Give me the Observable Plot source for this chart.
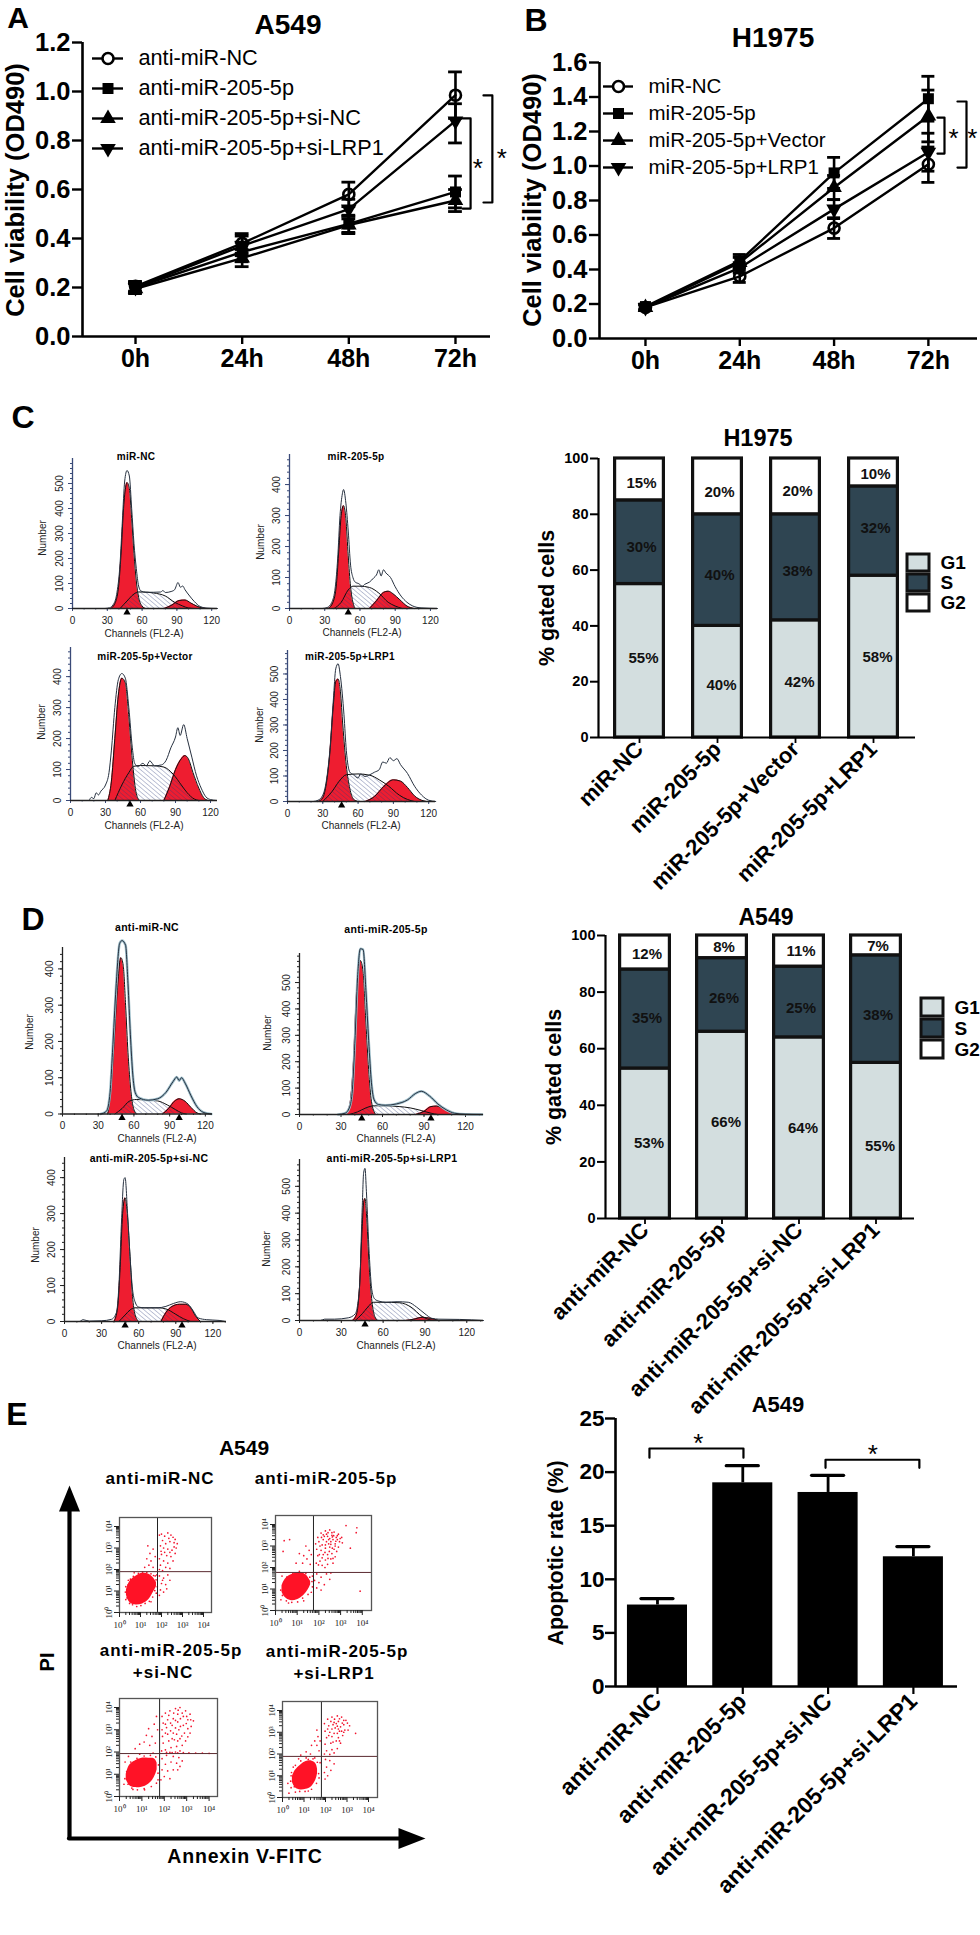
<!DOCTYPE html>
<html><head><meta charset="utf-8">
<script src="https://cdn.jsdelivr.net/npm/d3@7"></script>
<script src="https://cdn.jsdelivr.net/npm/@observablehq/plot@0.6"></script>
<style>
html,body{margin:0;padding:0;background:#fff}
#root{position:relative;width:980px;height:1935px;overflow:hidden;font-family:"Liberation Sans",Arial,sans-serif;color:#000}
.t{position:absolute;white-space:nowrap;line-height:1;transform-origin:center}
</style></head><body>
<svg width="0" height="0" style="position:absolute"><defs>
<pattern id="hatch" width="3.4" height="3.4" patternUnits="userSpaceOnUse" patternTransform="rotate(-50)"><rect width="3.4" height="3.4" fill="none"/><line x1="0" y1="0" x2="0" y2="3.4" stroke="#2b3a7a" stroke-width="1" stroke-opacity="0.6"/></pattern>
</defs></svg>
<div id="root"></div>
<script>
/* ---------- data: viability curves ---------- */
const hours = [0,24,48,72];
const a549Series = ["anti-miR-NC","anti-miR-205-5p","anti-miR-205-5p+si-NC","anti-miR-205-5p+si-LRP1"];
const a549Mean = [[.205,.38,.58,.985],[.20,.345,.46,.59],[.195,.32,.455,.555],[.20,.37,.52,.88]];
const a549High = [[.225,.42,.63,1.08],[.22,.385,.495,.655],[.215,.355,.49,.60],[.22,.41,.56,.95]];
const a549Low  = [[.185,.34,.53,.89],[.18,.305,.425,.525],[.175,.285,.42,.51],[.18,.33,.48,.79]];
const h1975Series = ["miR-NC","miR-205-5p","miR-205-5p+Vector","miR-205-5p+LRP1"];
const h1975Mean = [[.18,.36,.64,1.01],[.185,.45,.96,1.39],[.18,.44,.875,1.29],[.18,.41,.75,1.08]];
const h1975High = [[.195,.395,.70,1.11],[.20,.487,1.05,1.52],[.195,.47,.945,1.44],[.195,.44,.805,1.19]];
const h1975Low  = [[.165,.325,.58,.905],[.17,.41,.87,1.26],[.165,.41,.805,1.14],[.165,.38,.695,.97]];
const a549Brackets = [[[73.6,.89],[75.4,.89],[75.4,.522],[73.6,.522]],[[78.3,.984],[80.3,.984],[80.3,.547],[78.3,.547]]];
const a549Stars = [[77,.706],[82.4,.747]];
const h1975Brackets = [[[74.3,1.281],[76.1,1.281],[76.1,1.072],[74.3,1.072]],[[79.4,1.374],[81.7,1.374],[81.7,.991],[79.4,.991]]];
const h1975Stars = [[78.4,1.19],[83.2,1.19]];

/* ---------- data: cell-cycle stacks ---------- */
const stages = ["G1","S","G2"];
const stageColors = ["#d3dedf","#2f4552","#ffffff"];
const cycleH = h1975Series;
const cycleHG1 = [55,40,42,58], cycleHS = [30,40,38,32], cycleHG2 = [15,20,20,10];
const cycleHLabelY = {G1:[28.3,18.7,19.7,28.7], S:[68.2,58.1,59.6,75], G2:[91.1,87.9,88.3,94.3]};
const cycleA = a549Series;
const cycleAG1 = [53,66,64,55], cycleAS = [35,26,25,38], cycleAG2 = [12,8,11,7];
const cycleALabelY = {G1:[26.5,33.9,31.8,25.4], S:[70.7,77.7,74.2,72], G2:[93.3,95.8,94.4,96.4]};

/* ---------- data: apoptosis ---------- */
const apopNames = a549Series;
const apopPos = [1,2,3,4];
const apopMean = [7.6,19.0,18.1,12.1];
const apopHigh = [8.2,20.6,19.7,13.05];
const apopBrackets = [[[.906,21.35],[.906,22.2],[2.008,22.2],[2.008,21.35]],[[2.97,20.4],[2.97,21.15],[4.07,21.15],[4.07,20.4]]];
const apopStars = [[1.48,23.1],[3.525,22.1]];

/* ---------- data: histograms [channel, count] ---------- */
const histC1 = {out:[[28,0],[32,3],[35,15],[38,55],[41,180],[43,350],[45,510],[47,552],[49,530],[51,400],[53,260],[55,160],[57,90],[59,70],[63,65],[70,65],[76,66],[78,72],[80,64],[85,68],[88,75],[91,104],[93,85],[95,90],[97,75],[101,50],[105,28],[110,8],[115,2],[125,0]],
 g1:[[33,0],[37,25],[40,100],[42,230],[44,400],[46,490],[47,504],[49,480],[51,360],[53,220],[55,110],[57,45],[60,10],[63,0]],
 s:[[41,0],[47,30],[53,58],[57,66],[60,66],[70,62],[80,50],[88,25],[95,10],[100,2],[105,0]],
 g2:[[79,0],[85,12],[92,32],[97,34],[102,22],[107,10],[112,2],[116,0]], peaks:[47]};
const histC2 = {out:[[28,0],[32,3],[36,20],[39,70],[41,160],[43,300],[45,370],[46,384],[48,340],[50,250],[52,140],[54,100],[56,85],[59,80],[62,72],[64,78],[68,85],[72,100],[74,108],[76,125],[78,105],[80,125],[82,115],[86,100],[90,70],[95,40],[100,20],[105,8],[112,2],[126,0]],
 g1:[[33,0],[37,20],[40,80],[42,190],[44,300],[46,332],[48,290],[50,170],[52,70],[54,20],[56,0]],
 s:[[38,0],[44,20],[50,60],[54,72],[60,72],[68,68],[76,50],[84,20],[90,8],[96,0]],
 g2:[[68,0],[74,25],[80,52],[84,56],[88,48],[94,28],[100,8],[106,0]], peaks:[50]};
const histC3 = {out:[[16,0],[18,10],[20,6],[22,25],[24,18],[26,30],[30,50],[33,90],[35,160],[38,300],[41,390],[44,410],[47,395],[50,300],[53,170],[55,120],[58,110],[62,120],[65,112],[68,128],[72,112],[78,115],[82,130],[86,170],[90,205],[92,235],[94,210],[97,245],[100,200],[104,140],[108,80],[112,40],[116,12],[120,3],[125,0]],
 g1:[[32,0],[35,60],[38,200],[41,340],[44,395],[47,380],[50,270],[53,130],[56,30],[59,0]],
 s:[[38,0],[44,50],[50,90],[54,110],[60,113],[72,112],[80,108],[88,85],[95,50],[100,25],[106,5],[110,0]],
 g2:[[80,0],[85,45],[90,100],[95,135],[98,145],[101,135],[105,90],[110,40],[114,10],[118,0]], peaks:[51]};
const histC4 = {out:[[22,0],[26,5],[30,25],[33,80],[36,200],[39,400],[41,520],[43,540],[45,490],[48,340],[50,200],[53,115],[56,105],[60,92],[62,108],[66,98],[70,105],[74,115],[78,125],[81,155],[84,150],[87,172],[90,160],[93,168],[96,145],[102,110],[108,60],[114,25],[120,5],[126,0]],
 g1:[[26,0],[30,15],[33,70],[36,190],[39,380],[41,470],[43,480],[45,430],[47,300],[50,140],[53,50],[56,10],[60,0]],
 s:[[30,0],[38,40],[44,80],[50,105],[60,108],[70,103],[78,85],[86,60],[95,25],[102,8],[108,0]],
 g2:[[66,0],[74,20],[82,60],[90,85],[96,80],[102,55],[108,22],[114,5],[118,0]], peaks:[46]};
const histD1 = {out:[[32,0],[37,8],[40,60],[42,170],[45,350],[48,470],[50,478],[53,465],[55,360],[57,220],[59,110],[61,60],[64,45],[72,38],[80,42],[87,60],[93,90],[96,102],[98,92],[100,100],[103,85],[108,50],[113,20],[118,5],[125,0]],
 g1:[[38,0],[41,80],[43,180],[46,340],[49,431],[51,410],[53,300],[55,170],[57,80],[59,25],[62,0]],
 s:[[44,0],[50,15],[56,35],[62,40],[72,38],[80,36],[88,25],[95,12],[100,3],[104,0]],
 g2:[[84,0],[89,15],[94,35],[98,42],[103,35],[108,18],[113,3],[116,0]], peaks:[50,98]};
const histD2 = {out:[[28,0],[33,5],[36,25],[38,80],[40,270],[42,520],[44,628],[46,625],[48,470],[50,280],[52,120],[54,55],[57,38],[62,35],[70,40],[78,55],[84,80],[88,88],[94,70],[100,40],[106,18],[112,5],[120,1],[132,0]],
 g1:[[32,0],[35,15],[37,60],[39,200],[41,440],[43,570],[44,583],[46,540],[48,350],[50,170],[52,50],[55,0]],
 s:[[36,0],[42,10],[48,25],[54,33],[62,33],[72,30],[80,25],[88,15],[95,5],[100,0]],
 g2:[[84,0],[90,12],[95,30],[99,32],[104,22],[110,6],[114,0]], peaks:[45,95]};
const histD3 = {out:[[0,0],[12,0],[15,5],[20,1],[30,2],[38,6],[42,25],[44,100],[46,270],[48,395],[49,400],[51,300],[53,180],[55,90],[57,55],[60,40],[65,38],[75,38],[82,42],[88,50],[94,55],[100,48],[104,30],[108,10],[115,5],[125,3],[130,0]],
 g1:[[40,0],[43,40],[45,150],[47,300],[49,344],[51,290],[53,180],[55,70],[57,20],[60,0]],
 s:[[44,0],[49,18],[53,32],[57,38],[66,38],[76,38],[82,35],[90,20],[96,8],[102,0]],
 g2:[[78,0],[82,25],[87,42],[93,48],[98,48],[102,38],[106,15],[110,0]], peaks:[49,95]};
const histD4 = {out:[[0,0],[15,0],[18,5],[25,5],[35,10],[40,25],[43,120],[45,420],[46,550],[47,567],[48,480],[50,250],[52,110],[54,80],[57,72],[62,68],[70,70],[78,68],[84,50],[90,25],[95,8],[100,5],[115,4],[132,0]],
 g1:[[38,0],[41,25],[43,120],[45,350],[46,440],[47,455],[48,400],[50,200],[52,70],[54,15],[56,0]],
 s:[[40,0],[45,25],[49,50],[53,68],[60,68],[72,66],[80,50],[88,15],[92,5],[96,0]],
 g2:[[76,0],[82,5],[88,12],[94,8],[100,0]], peaks:[47]};

/* ---------- data: flow cytometry, [log10 Annexin, log10 PI] ---------- */
const blobA = [[.33,.8,1.05],[.5,.45,1.45],[.8,.35,1.7],[1.1,.4,1.82],[1.4,.6,1.78],[1.62,.95,1.6],[1.76,1.2,1.4]];
const dotsA = [[1.9,3.6],[2.0,3.65],[2.15,3.55],[2.3,3.7],[2.45,3.6],[2.55,3.5],[2.65,3.4],[2.75,3.2],[2.7,3.0],[2.6,3.25],[2.4,3.3],[2.2,3.2],[2.05,3.35],[1.95,3.1],[2.1,3.0],[2.3,2.95],[2.5,2.9],[2.65,2.75],[2.45,2.6],[2.25,2.65],[2.0,2.7],[1.9,2.5],[2.1,2.4],[2.3,2.3],[2.55,2.4],[1.95,2.2],[2.2,2.1],[2.4,2.05],[1.9,2.0],[2.05,1.95],[2.35,3.45],[2.6,3.05],[2.15,2.8],[2.4,2.8],[1.98,2.85],[1.35,3.1],[1.45,2.75],[1.3,2.5],[1.5,2.4],[1.6,2.95],[1.4,2.2],[1.6,2.1],[1.7,2.6],[1.2,2.1],[1.9,1.7],[2.1,1.6],[2.3,1.75],[2.4,1.5],[2.0,1.35],[2.2,1.3],[1.95,1.05],[2.1,.95],[1.9,.8],[2.05,1.5],[2.25,1.1],[.3,.6],[.42,1.5],[1.7,1.7],[1.75,.9],[1.5,.5],[.7,1.85],[.3,1.2],
 [.28,.95],[.36,.68],[.4,1.28],[.48,.42],[.52,1.55],[.62,.36],[.66,1.68],[.82,.28],[.9,1.82],[1.02,.32],[1.1,1.88],[1.22,.42],[1.3,1.86],[1.42,.52],[1.5,1.8],[1.58,.72],[1.62,1.72],[1.68,1.02],[1.74,1.52],[1.8,1.2],[1.78,1.75]];
const blobB = [[.3,.85,1.15],[.45,.6,1.45],[.7,.46,1.65],[1.0,.5,1.75],[1.3,.7,1.72],[1.5,.95,1.55],[1.62,1.2,1.35]];
const dotsB = [[1.85,3.1],[1.95,3.4],[2.1,3.6],[2.3,3.7],[2.5,3.75],[2.7,3.65],[2.9,3.55],[3.05,3.4],[3.08,3.15],[2.95,3.2],[2.8,3.4],[2.6,3.5],[2.4,3.45],[2.2,3.3],[2.0,3.2],[2.15,3.05],[2.35,3.2],[2.55,3.2],[2.75,3.1],[2.9,2.95],[2.7,2.85],[2.5,2.95],[2.3,2.9],[2.1,2.8],[1.9,2.85],[1.95,2.55],[2.2,2.6],[2.4,2.6],[2.6,2.65],[2.75,2.5],[2.55,2.4],[2.3,2.35],[2.05,2.3],[1.88,2.2],[2.15,2.1],[2.4,2.15],[2.65,2.2],[2.5,3.35],[2.65,3.3],[2.45,3.1],[2.35,3.55],[2.6,3.62],[2.75,3.0],[2.85,3.3],[2.25,3.45],[3.25,3.95],[3.75,3.85],[3.72,3.62],[3.45,2.9],[1.4,3.0],[1.55,2.8],[1.3,2.55],[1.1,2.65],[1.45,2.4],[1.65,2.6],[.95,2.2],[1.25,2.2],[1.6,2.15],[.65,3.3],[.35,2.75],[.4,3.25],[1.9,1.7],[2.1,1.55],[2.35,1.7],[2.5,1.45],[2.0,1.3],[2.25,1.2],[1.9,1.05],[2.1,.95],[2.55,1.75],[1.8,1.4],[3.9,.9],[.25,.5],[.6,.35],[1.3,.45],[1.65,.85],[1.7,1.6],[.3,1.6],
 [2.45,3.3],[2.62,3.42],[2.78,3.22],[2.42,3.62],[2.55,3.08],[2.68,3.48],[2.3,3.05],[2.85,3.48],[2.98,3.35],[2.2,3.52],[2.12,3.4],[2.05,3.0],[2.28,2.7],[2.48,2.75],[2.62,2.9],[2.82,2.75],[2.02,2.6],[2.15,2.45],[2.42,2.42],[2.65,2.42],[1.98,2.12],[2.28,2.0],[.24,.95],[.32,.7],[.38,1.3],[.5,.45],[.52,1.55],[.75,.38],[.8,1.72],[1.02,.4],[1.1,1.82],[1.25,.58],[1.4,1.72],[1.5,.75],[1.58,1.55],[1.7,1.1],[1.68,1.35]];
const blobC = [[.3,.75,1.0],[.45,.5,1.4],[.7,.4,1.6],[1.0,.42,1.72],[1.3,.55,1.72],[1.55,.85,1.7],[1.68,1.2,1.5]];
const dotsC = [[1.9,3.6],[2.05,3.75],[2.25,3.85],[2.5,3.95],[2.7,4.0],[2.95,3.85],[3.15,3.7],[3.3,3.4],[3.2,3.15],[3.05,3.45],[2.85,3.6],[2.6,3.7],[2.4,3.5],[2.15,3.45],[1.95,3.3],[1.9,3.0],[2.1,3.1],[2.35,3.2],[2.6,3.35],[2.85,3.2],[3.05,3.05],[3.15,2.85],[2.9,2.85],[2.65,3.0],[2.4,2.85],[2.15,2.8],[1.92,2.7],[1.95,2.4],[2.2,2.5],[2.45,2.55],[2.7,2.6],[2.95,2.5],[2.8,2.3],[2.55,2.25],[2.3,2.2],[2.05,2.1],[1.88,2.05],[2.25,1.98],[2.5,2.0],[2.7,2.05],[2.1,1.98],[2.35,1.97],[2.6,1.96],[2.85,1.97],[3.1,1.96],[3.4,1.95],[3.7,1.95],[4.0,1.94],[1.3,3.05],[1.55,3.25],[1.65,3.6],[1.7,3.0],[1.2,2.75],[1.45,2.7],[.9,2.35],[1.1,2.45],[1.6,2.4],[.7,2.15],[1.35,2.3],[1.9,1.7],[2.1,1.85],[2.4,1.8],[2.65,1.75],[2.8,1.6],[2.55,1.5],[2.3,1.55],[2.05,1.45],[1.9,1.2],[2.15,1.15],[2.4,1.2],[2.6,1.2],[2.0,.9],[2.25,.8],[1.85,.75],[2.7,1.35],[.2,.55],[.25,1.55],[.4,1.8],[.9,1.9],[1.5,1.95],[.6,.32],[1.1,.35],[1.72,.75],
 [2.2,3.65],[2.42,3.75],[2.62,3.88],[2.8,3.75],[3.0,3.6],[3.18,3.45],[2.72,3.5],[2.5,3.42],[2.28,3.3],[2.05,3.25],[2.5,3.08],[2.72,3.15],[2.98,3.28],[2.28,2.95],[2.55,2.8],[2.78,2.72],[3.05,2.68],[2.05,2.85],[2.35,2.6],[2.6,2.5],[.24,.8],[.32,1.12],[.38,.55],[.5,1.55],[.55,.38],[.78,1.72],[.8,.3],[1.1,1.82],[1.12,.3],[1.38,1.85],[1.42,.45],[1.62,1.78],[1.65,.6],[1.72,1.05],[1.74,1.42]];
const blobD = [[.46,.7,.95],[.6,.45,1.25],[.85,.35,1.5],[1.1,.38,1.65],[1.35,.5,1.68],[1.55,.8,1.55],[1.63,1.1,1.3]];
const dotsD = [[1.95,3.4],[2.1,3.6],[2.3,3.7],[2.55,3.75],[2.75,3.7],[2.95,3.55],[3.12,3.3],[3.05,3.1],[2.85,3.35],[2.6,3.5],[2.4,3.45],[2.15,3.3],[1.98,3.05],[2.2,3.0],[2.45,3.2],[2.7,3.25],[2.9,3.1],[2.8,2.85],[2.55,2.95],[2.3,2.8],[2.05,2.75],[1.98,2.45],[2.25,2.5],[2.5,2.6],[2.7,2.5],[2.55,2.25],[2.3,2.2],[2.05,2.15],[1.95,2.0],[2.2,1.98],[2.4,2.05],[2.65,3.05],[2.35,3.35],[2.5,3.4],[2.75,3.05],[2.6,2.75],[3.4,2.95],[1.6,3.1],[1.65,2.8],[1.5,2.6],[1.75,2.6],[1.35,2.4],[1.6,2.4],[1.1,2.1],[1.3,2.0],[1.7,2.15],[.85,1.95],[2.0,1.75],[2.2,1.7],[2.4,1.55],[2.05,1.4],[2.25,1.25],[1.95,1.15],[2.1,1.0],[1.98,.85],[.3,.2],[.4,.45],[.25,.65],[.4,1.0],[.5,1.4],[.75,1.78],[1.1,1.82],[1.5,1.82],[1.75,1.6],[1.7,.9],[.6,.25],[1.2,.3],
 [2.25,3.5],[2.42,3.6],[2.65,3.62],[2.85,3.55],[3.02,3.42],[2.55,3.28],[2.78,3.42],[2.3,3.15],[2.6,3.15],[2.85,3.0],[2.4,2.95],[2.15,2.85],[2.1,3.15],[2.65,2.6],[2.35,2.55],[.38,.75],[.42,1.15],[.55,.5],[.6,1.48],[.8,.28],[.85,1.68],[1.05,.28],[1.2,1.75],[1.35,.38],[1.42,1.78],[1.58,.65],[1.62,1.62],[1.68,1.1]];

/* ---------- helpers ---------- */
const FONT = '"Liberation Sans", Arial, sans-serif';
const root = document.getElementById("root");
function mount(box, pad, opts){
  const svg = Plot.plot({
    width: box.right-box.left+pad.l+pad.r, height: box.bottom-box.top+pad.t+pad.b,
    marginLeft: pad.l, marginRight: pad.r, marginTop: pad.t, marginBottom: pad.b,
    style: {fontFamily: FONT, background: "transparent", overflow: "visible", maxWidth: "none", color: "#000"},
    ...opts});
  svg.style.position = "absolute";
  svg.style.left = (box.left-pad.l)+"px";
  svg.style.top = (box.top-pad.t)+"px";
  root.append(svg);
}
function text(s, x, y, size, o={}){
  const d = document.createElement("div");
  d.className = "t"; d.textContent = s;
  d.style.left = x+"px"; d.style.top = y+"px"; d.style.fontSize = size+"px";
  d.style.fontWeight = o.weight ?? "bold";
  if (o.spacing) d.style.letterSpacing = o.spacing+"px";
  if (o.color) d.style.color = o.color;
  d.style.transform = `translate(-50%,-50%) rotate(${o.rotate ?? 0}deg)`;
  root.append(d);
}
const downTriangle = {draw(c, s){ const y = Math.sqrt(s/(Math.sqrt(3)*3)); c.moveTo(0,y*2); c.lineTo(-Math.sqrt(3)*y,-y); c.lineTo(Math.sqrt(3)*y,-y); c.closePath(); }};
const symbols = ["circle","square","triangle",downTriangle];
const markerR = [5.5,6.2,5.8,5.8];

/* ---------- viability panel ---------- */
function viability(cfg){
  const marks = [];
  cfg.names.forEach((name,i)=>{
    const rows = hours.map((h,j)=>({h, m:cfg.mean[i][j], hi:cfg.high[i][j], lo:cfg.low[i][j]}));
    marks.push(Plot.line(rows,{x:"h",y:"m",stroke:"#000",strokeWidth:2.4}));
    marks.push(Plot.ruleX(rows,{x:"h",y1:"lo",y2:"hi",stroke:"#000",strokeWidth:2.6}));
    marks.push(Plot.ruleY(rows,{y:"hi",x1:d=>d.h-cfg.cap,x2:d=>d.h+cfg.cap,stroke:"#000",strokeWidth:2.8}));
    marks.push(Plot.ruleY(rows,{y:"lo",x1:d=>d.h-cfg.cap,x2:d=>d.h+cfg.cap,stroke:"#000",strokeWidth:2.8}));
    marks.push(i===0
      ? Plot.dot(rows,{x:"h",y:"m",r:markerR[0],symbol:"circle",stroke:"#000",strokeWidth:2.6,fill:"none"})
      : Plot.dot(rows,{x:"h",y:"m",r:markerR[i],symbol:symbols[i],fill:"#000",stroke:"none"}));
  });
  cfg.brackets.forEach(b=>marks.push(Plot.line(b,{x:"0",y:"1",stroke:"#000",strokeWidth:2.2,curve:"linear"})));
  marks.push(Plot.text(cfg.stars,{x:"0",y:"1",text:()=>"*",fontSize:26,fill:"#000",dy:5}));
  mount(cfg.box,{l:80,r:0,t:20,b:45},{
    x:{domain:cfg.xDomain,label:null}, y:{domain:cfg.yDomain,label:null},
    marks:[
      Plot.ruleX([cfg.xDomain[0]],{stroke:"#000",strokeWidth:2.6}),
      Plot.ruleY([0],{stroke:"#000",strokeWidth:2.6}),
      Plot.axisY({ticks:cfg.yTicks,tickFormat:d=>d.toFixed(1),tickSize:10,tickPadding:2,strokeWidth:2.4,fontSize:25.5,fontWeight:"bold",label:null,fill:"#000"}),
      Plot.axisX({ticks:hours,tickFormat:d=>d+"h",tickSize:8,tickPadding:5,strokeWidth:2.4,fontSize:25,fontWeight:"bold",label:null,fill:"#000"}),
      ...marks]});
}
function lineLegend(names, box, size){
  const rows = names.map((n,i)=>({n,i}));
  mount(box,{l:4,r:340,t:16,b:16},{
    x:{domain:[0,1],axis:null}, y:{type:"point",domain:names,axis:null,padding:0},
    marks:[
      Plot.ruleY(rows,{y:"n",stroke:"#000",strokeWidth:2.4}),
      ...rows.map(r=>r.i===0
        ? Plot.dot([r],{x:()=>.5,y:"n",r:5.5,symbol:"circle",stroke:"#000",strokeWidth:2.6,fill:"#fff"})
        : Plot.dot([r],{x:()=>.5,y:"n",r:markerR[r.i],symbol:symbols[r.i],fill:"#000"})),
      Plot.text(rows,{x:()=>1,y:"n",text:"n",dx:15,textAnchor:"start",fontSize:size,fill:"#000",lineAnchor:"middle"})
    ]});
}
viability({box:{left:82,right:490,top:42,bottom:336},names:a549Series,mean:a549Mean,high:a549High,low:a549Low,
  xDomain:[-11.93,79.88],yDomain:[0,1.2],yTicks:d3.range(0,1.21,.2),cap:1.55,brackets:a549Brackets,stars:a549Stars});
lineLegend(a549Series,{left:92,right:123,top:58,bottom:148},21.7);
viability({box:{left:599,right:977,top:62,bottom:338},names:h1975Series,mean:h1975Mean,high:h1975High,low:h1975Low,
  xDomain:[-11.7,84.5],yDomain:[0,1.6],yTicks:d3.range(0,1.61,.2),cap:1.65,brackets:h1975Brackets,stars:h1975Stars});
lineLegend(h1975Series,{left:603,right:633,top:85,bottom:168},20.5);

/* ---------- cell-cycle stacks ---------- */
function cycle(cfg){
  const rows = [];
  stages.forEach((st,k)=>cfg.names.forEach((name,i)=>{
    rows.push({name,stage:st,value:cfg.values[k][i],labelY:cfg.labelY[st][i]});
  }));
  mount(cfg.box,{l:70,r:5,t:5,b:40},{
    x:{domain:cfg.names,label:null,paddingInner:cfg.pi,paddingOuter:cfg.po,align:.5},
    y:{domain:[0,100],label:null},
    color:{domain:stages,range:stageColors},
    marks:[
      Plot.barY(rows,{x:"name",y:"value",fill:"stage",stroke:"#111",strokeWidth:3.2,insetLeft:1.6,insetRight:1.6}),
      Plot.ruleY([0],{stroke:"#000",strokeWidth:2.2}),
      Plot.axisY({ticks:d3.range(0,101,20),tickSize:8,tickPadding:2,strokeWidth:2,fontSize:14.5,fontWeight:"bold",label:null,fill:"#000"}),
      Plot.axisX({tickSize:6,tickPadding:2,tickRotate:-45,strokeWidth:1.8,fontSize:22,fontWeight:"bold",label:null,fill:"#000"}),
      Plot.text(rows.filter(d=>d.stage==="G1"),{x:"name",y:"labelY",text:d=>d.value+"%",fontSize:15,fontWeight:"bold",fill:"#111",dx:4}),
      Plot.text(rows.filter(d=>d.stage!=="G1"),{x:"name",y:"labelY",text:d=>d.value+"%",fontSize:15,fontWeight:"bold",fill:"#111",dx:2})
    ]});
  mount({left:cfg.box.left,right:cfg.box.left+1,top:cfg.box.top,bottom:cfg.box.bottom},{l:1,r:1,t:0,b:0},{
    x:{domain:[0,1],axis:null},y:{domain:[0,100],axis:null},marks:[Plot.ruleX([0],{stroke:"#000",strokeWidth:2.2})]});
}
function cycleLegend(box){
  mount(box,{l:2,r:30,t:2,b:2},{
    x:{domain:["k"],axis:null,padding:0},
    y:{domain:stages,axis:null,padding:.16},
    color:{domain:stages,range:stageColors},
    marks:[
      Plot.cell(stages,{x:()=>"k",y:d=>d,fill:d=>d,stroke:"#111",strokeWidth:3}),
      Plot.text(stages,{x:()=>"k",y:d=>d,text:d=>d,dx:22,textAnchor:"start",fontSize:19,fontWeight:"bold",fill:"#000"})
    ]});
}
cycle({box:{left:598,right:915,top:458,bottom:737},names:cycleH,values:[cycleHG1,cycleHS,cycleHG2],labelY:cycleHLabelY,pi:.327,po:.178});
cycleLegend({left:907,right:929,top:549,bottom:615});
cycle({box:{left:605,right:914,top:935,bottom:1218},names:cycleA,values:[cycleAG1,cycleAS,cycleAG2],labelY:cycleALabelY,pi:.312,po:.156});
cycleLegend({left:921,right:943,top:994,bottom:1062});

/* ---------- apoptosis bars ---------- */
const apopRows = apopNames.map((n,i)=>({n,p:apopPos[i],m:apopMean[i],hi:apopHigh[i]}));
mount({left:615,right:957,top:1418,bottom:1686},{l:60,r:5,t:5,b:40},{
  x:{domain:[.508,4.517],label:null}, y:{domain:[0,25],label:null},
  marks:[
    Plot.ruleX(apopRows,{x:"p",y1:"m",y2:"hi",stroke:"#000",strokeWidth:2.8}),
    Plot.ruleY(apopRows,{y:"hi",x1:d=>d.p-.188,x2:d=>d.p+.188,stroke:"#000",strokeWidth:3.2,strokeLinecap:"round"}),
    Plot.rectY(apopRows,{x1:d=>d.p-.352,x2:d=>d.p+.352,y:"m",fill:"#000"}),
    Plot.ruleX([.508],{stroke:"#000",strokeWidth:2.6}),
    Plot.ruleY([0],{stroke:"#000",strokeWidth:2.6}),
    Plot.axisY({ticks:d3.range(0,26,5),tickSize:10,tickPadding:1,strokeWidth:2.4,fontSize:22.5,fontWeight:"bold",label:null,fill:"#000"}),
    Plot.axisX({ticks:apopPos,tickFormat:i=>apopNames[i-1],tickSize:8,tickPadding:3,tickRotate:-45,strokeWidth:2.2,fontSize:23,fontWeight:"bold",label:null,fill:"#000"}),
    ...apopBrackets.map(b=>Plot.line(b,{x:"0",y:"1",stroke:"#000",strokeWidth:2.2})),
    Plot.text(apopStars,{x:"0",y:"1",text:()=>"*",fontSize:26,fill:"#000",dy:5})
  ]});

/* ---------- histograms ---------- */
function hist(h, cfg){
  const b = cfg.box, c = "monotone-x", axisC = cfg.axisColor ?? "#3a4a78";
  const marks = [
    Plot.areaY(h.g1,{x:"0",y:"1",fill:"#ee1d30",curve:c}),
    Plot.areaY(h.g2,{x:"0",y:"1",fill:"#ee1d30",curve:c}),
    Plot.areaY(h.s,{x:"0",y:"1",fill:"url(#hatch)",curve:c}),
    Plot.lineY(h.g1,{x:"0",y:"1",stroke:"#111",strokeWidth:1,curve:c}),
    Plot.lineY(h.g2,{x:"0",y:"1",stroke:"#111",strokeWidth:1,curve:c}),
    Plot.lineY(h.s,{x:"0",y:"1",stroke:"#111",strokeWidth:1,curve:c})
  ];
  if (cfg.halo) marks.push(Plot.lineY(h.out,{x:"0",y:"1",stroke:"#9fbfcb",strokeWidth:2.6,curve:c}));
  marks.push(Plot.lineY(h.out,{x:"0",y:"1",stroke:"#26303f",strokeWidth:1,curve:c}));
  mount(b,{l:40,r:5,t:5,b:35},{
    x:{domain:[0,cfg.xMax],label:null}, y:{domain:[0,cfg.yMax],label:null},
    marks:[
      Plot.axisY({ticks:d3.range(0,cfg.yMax,20),tickFormat:()=>"",tickSize:2,stroke:axisC,label:null}),
      Plot.axisY({ticks:cfg.yTicks,tickSize:4,tickPadding:cfg.yPad ?? 6,stroke:axisC,tickRotate:-90,fontSize:10,label:null,fill:"#222"}),
      Plot.axisX({ticks:d3.range(0,cfg.xMax,10),tickFormat:()=>"",tickSize:1.5,stroke:axisC,label:null}),
      Plot.axisX({ticks:d3.range(0,121,30),tickSize:3,tickPadding:5,stroke:axisC,fontSize:10,label:null,fill:"#222"}),
      Plot.ruleX([0],{stroke:axisC,strokeWidth:1.3}),
      ...marks,
      Plot.ruleY([0],{stroke:"#222",strokeWidth:1.4}),
      Plot.dot(h.peaks,{x:d=>d,y:()=>0,symbol:"triangle",r:2.7,fill:"#000",dy:4})
    ]});
  text(cfg.title,cfg.titleAt[0],cfg.titleAt[1],cfg.titleSize ?? 10,{spacing:.3});
  text("Channels (FL2-A)",cfg.chAt[0],cfg.chAt[1],10,{weight:"normal",color:"#222"});
  text("Number",cfg.numAt[0],cfg.numAt[1],10,{weight:"normal",rotate:-90,color:"#222"});
}
hist(histC1,{box:{left:72,right:217,top:458,bottom:608},xMax:125,yMax:600,yTicks:d3.range(0,501,100),title:"miR-NC",titleAt:[136,457],chAt:[144,634],numAt:[43,538]});
hist(histC2,{box:{left:289,right:437,top:454,bottom:608},xMax:126,yMax:497,yTicks:d3.range(0,401,100),title:"miR-205-5p",titleAt:[356,457],chAt:[362,633],numAt:[261,542]});
hist(histC3,{box:{left:70,right:217,top:647,bottom:800},xMax:126,yMax:494,yTicks:d3.range(0,401,100),title:"miR-205-5p+Vector",titleAt:[145,657],chAt:[144,826],numAt:[42,722]});
hist(histC4,{box:{left:287,right:435,top:650,bottom:801},xMax:125.8,yMax:592,yTicks:d3.range(0,501,100),title:"miR-205-5p+LRP1",titleAt:[350,657],chAt:[361,826],numAt:[260,725]});
hist(histD1,{box:{left:62,right:212,top:947,bottom:1113.5},xMax:126,yMax:459,yTicks:d3.range(0,401,100),halo:true,axisColor:"#222",title:"anti-miR-NC",titleAt:[147,927],titleSize:10.5,chAt:[157,1139],numAt:[30,1032]});
hist(histD2,{box:{left:299,right:483,top:953,bottom:1114},xMax:133,yMax:610,yTicks:d3.range(0,501,100),halo:true,axisColor:"#222",title:"anti-miR-205-5p",titleAt:[386,929],titleSize:10.5,chAt:[396,1139],numAt:[268,1033]});
hist(histD3,{box:{left:64,right:226,top:1157,bottom:1321},xMax:131,yMax:456,yTicks:d3.range(0,401,100),axisColor:"#222",title:"anti-miR-205-5p+si-NC",titleAt:[149,1158],titleSize:10.5,chAt:[157,1346],numAt:[36,1245]});
hist(histD4,{box:{left:299,right:483,top:1159,bottom:1320},xMax:132,yMax:600,yTicks:d3.range(0,501,100),axisColor:"#222",title:"anti-miR-205-5p+si-LRP1",titleAt:[392,1158],titleSize:10.5,chAt:[396,1346],numAt:[267,1249]});

/* ---------- flow cytometry ---------- */
const sup = ["\u2070","\u00b9","\u00b2","\u00b3","\u2074"];
const decades = [0,1,2,3,4];
const minor = decades.slice(0,4).flatMap(k=>d3.range(2,10).map(m=>k+Math.log10(m)));
function facs(blob, dots, cfg){
  const b = cfg.box, c = "#555";
  const xMax = (b.right-b.left)/cfg.sx, yMax = (b.bottom-b.top)/cfg.sy;
  mount(b,{l:22,r:4,t:4,b:22},{
    x:{domain:[0,xMax],label:null}, y:{domain:[0,yMax],label:null},
    marks:[
      Plot.areaY(blob,{x:"0",y1:"1",y2:"2",fill:"#ff1226",curve:"natural"}),
      Plot.dot(dots,{x:"0",y:"1",r:.85,fill:"#f2142e"}),
      Plot.ruleX([cfg.q[0]],{stroke:"#222",strokeWidth:1}),
      Plot.ruleY([cfg.q[1]],{stroke:"#5a2a30",strokeWidth:1}),
      Plot.frame({stroke:c,strokeWidth:1.3}),
      Plot.axisX({ticks:minor,tickFormat:()=>"",tickSize:3,stroke:"#222",label:null}),
      Plot.axisY({ticks:minor,tickFormat:()=>"",tickSize:3,stroke:"#222",label:null}),
      Plot.axisX({ticks:decades,tickFormat:d=>"10"+sup[d],tickSize:5,tickPadding:4,stroke:"#222",fontSize:9,fontFamily:"Liberation Serif",label:null,fill:"#222"}),
      Plot.axisY({ticks:decades,tickFormat:d=>"10"+sup[d],tickSize:5,tickPadding:3,tickRotate:-90,stroke:"#222",fontSize:9,fontFamily:"Liberation Serif",label:null,fill:"#222"})
    ]});
}
facs(blobA,dotsA,{box:{left:119,right:211,top:1517,bottom:1612},sx:21,sy:21.5,q:[1.81,1.9]});
facs(blobB,dotsB,{box:{left:275,right:371,top:1515,bottom:1610},sx:21.7,sy:21.5,q:[1.75,1.77]});
facs(blobC,dotsC,{box:{left:119,right:217,top:1698,bottom:1796},sx:22.4,sy:22.25,q:[1.79,1.93]});
facs(blobD,dotsD,{box:{left:282,right:377,top:1701,bottom:1797},sx:21.5,sy:21.75,q:[1.81,1.89]});

/* schematic axes of panel E */
const arrowUp = {draw(c){ c.moveTo(0,-13); c.lineTo(10.5,13); c.lineTo(-10.5,13); c.closePath(); }};
const arrowRight = {draw(c){ c.moveTo(13.5,0); c.lineTo(-13.5,10.5); c.lineTo(-13.5,-10.5); c.closePath(); }};
const axisEnds = [0,1];
mount({left:69,right:425,top:1485,bottom:1838},{l:12,r:12,t:2,b:12},{
  x:{domain:axisEnds,axis:null}, y:{domain:axisEnds,axis:null},
  marks:[
    Plot.ruleY([0],{x1:0,x2:.94,stroke:"#000",strokeWidth:4.2,strokeLinecap:"round"}),
    Plot.ruleX([0],{y1:0,y2:.94,stroke:"#000",strokeWidth:4.2,strokeLinecap:"round"}),
    Plot.dot([0],{x:()=>0,y:()=>1,symbol:arrowUp,fill:"#000",dy:13,r:5}),
    Plot.dot([0],{x:()=>1,y:()=>0,symbol:arrowRight,fill:"#000",dx:-13.5,r:5})
  ]});

/* ---------- titles and labels ---------- */
text("A",18,18,30); text("B",536,20,32); text("C",23,417,32); text("D",33,919,32); text("E",17,1414,32);
text("A549",288,25,28);
text("H1975",773,38,28);
text("Cell viability (OD490)",16,190,25.5,{rotate:-90});
text("Cell viability (OD490)",533,200,25.5,{rotate:-90});
text("H1975",758,439,23.5);
text("% gated cells",548,598,21.5,{rotate:-90});
text("A549",766,917,23);
text("% gated cells",555,1077,21.5,{rotate:-90});
text("A549",778,1405,22);
text("Apoptotic rate (%)",557,1553,21.5,{rotate:-90});
text("A549",244,1447,21);
text("anti-miR-NC",160,1478,17,{spacing:1});
text("anti-miR-205-5p",326,1478,17,{spacing:1});
text("anti-miR-205-5p",171,1650,17,{spacing:1});
text("+si-NC",163,1672,17,{spacing:1});
text("anti-miR-205-5p",337,1651,17,{spacing:1});
text("+si-LRP1",334,1673,17,{spacing:1});
text("PI",47,1662,20,{rotate:-90});
text("Annexin V-FITC",245,1857,19.5,{spacing:.8});
</script>
</body></html>
